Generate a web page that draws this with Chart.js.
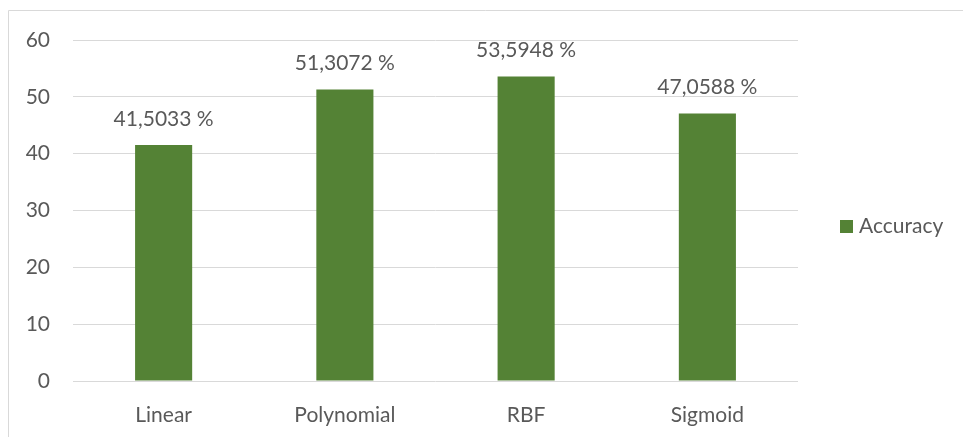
<!DOCTYPE html>
<html>
<head>
<meta charset="utf-8">
<script src="https://cdn.jsdelivr.net/npm/chart.js@4/dist/chart.umd.min.js"></script>
<style>
  html, body { margin: 0; padding: 0; background: #ffffff; }
  #wrap { position: relative; width: 963px; height: 437px; }
</style>
</head>
<body>
<div id="wrap"><canvas id="c" width="963" height="437"></canvas></div>
<script>
// Kernel comparison data
const categories = ['Linear', 'Polynomial', 'RBF', 'Sigmoid'];
const accuracy = [41.5033, 51.3072, 53.5948, 47.0588];
const seriesName = 'Accuracy';
const yMin = 0;
const yMax = 60;
const yStep = 10;

const TEXT = '#595959';
const GRID = '#d9d9d9';
const BAR = '#548235';
const FAMILY = 'Lato, "Open Sans", sans-serif';
const FONT_SIZE = 21;

function fmtValue(v) {
  return v.toFixed(4).replace('.', ',') + ' %';
}

// Outer frame of the chart object
const framePlugin = {
  id: 'frame',
  beforeDraw(chart) {
    const ctx = chart.ctx;
    ctx.save();
    ctx.strokeStyle = GRID;
    ctx.lineWidth = 1;
    ctx.beginPath();
    ctx.moveTo(8.5, chart.height);
    ctx.lineTo(8.5, 10.5);
    ctx.lineTo(chart.width, 10.5);
    ctx.stroke();
    ctx.restore();
  }
};

// Value labels above each bar
const valueLabels = {
  id: 'valueLabels',
  afterDatasetsDraw(chart) {
    const ctx = chart.ctx;
    ctx.save();
    ctx.font = FONT_SIZE + 'px ' + FAMILY;
    ctx.fillStyle = TEXT;
    ctx.textAlign = 'center';
    ctx.textBaseline = 'middle';
    chart.data.datasets.forEach((ds, di) => {
      const meta = chart.getDatasetMeta(di);
      meta.data.forEach((bar, i) => {
        ctx.fillText(fmtValue(ds.data[i]), bar.x, bar.y - 26);
      });
    });
    ctx.restore();
  }
};

// Legend entry to the right of the plot
const sideLegend = {
  id: 'sideLegend',
  afterDraw(chart) {
    const ctx = chart.ctx;
    const ds = chart.data.datasets[0];
    const area = chart.chartArea;
    const cy = (area.top + area.bottom) / 2 + 16;
    ctx.save();
    ctx.fillStyle = ds.backgroundColor;
    ctx.fillRect(840, cy - 6.5, 13, 13);
    ctx.font = FONT_SIZE + 'px ' + FAMILY;
    ctx.fillStyle = TEXT;
    ctx.textAlign = 'left';
    ctx.textBaseline = 'middle';
    ctx.fillText(ds.label, 859, cy);
    ctx.restore();
  }
};

new Chart(document.getElementById('c'), {
  type: 'bar',
  data: {
    labels: categories,
    datasets: [{
      label: seriesName,
      data: accuracy,
      backgroundColor: BAR,
      borderWidth: 0,
      categoryPercentage: 1,
      barPercentage: 0.315
    }]
  },
  options: {
    responsive: false,
    animation: false,
    devicePixelRatio: 1,
    layout: { padding: { top: 40, right: 165, left: 0, bottom: 0 } },
    plugins: {
      legend: { display: false },
      tooltip: { enabled: false }
    },
    scales: {
      x: {
        grid: { display: false },
        border: { display: false },
        ticks: {
          color: TEXT,
          font: { family: FAMILY, size: FONT_SIZE },
          padding: 14,
          maxRotation: 0
        },
        afterFit(scale) { scale.height = 56; }
      },
      y: {
        min: yMin,
        max: yMax,
        grid: { color: GRID, lineWidth: 1, drawTicks: false },
        border: { display: false },
        ticks: {
          stepSize: yStep,
          color: TEXT,
          font: { family: FAMILY, size: FONT_SIZE },
          padding: 23
        },
        afterFit(scale) { scale.width = 73; }
      }
    }
  },
  plugins: [framePlugin, valueLabels, sideLegend]
});
</script>
</body>
</html>
